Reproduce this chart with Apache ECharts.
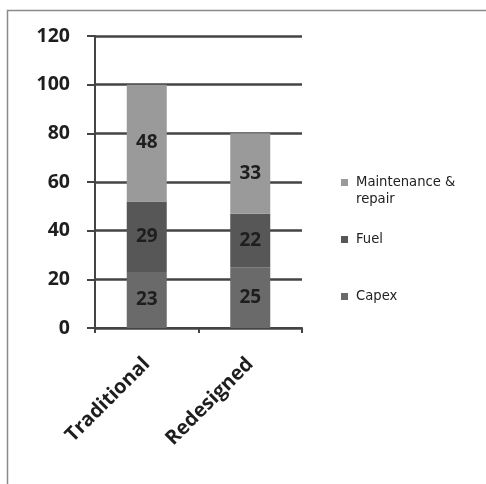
<!DOCTYPE html>
<html><head><meta charset="utf-8">
<script src="https://cdn.jsdelivr.net/npm/echarts@6/dist/echarts.min.js"></script>
<style>html,body{margin:0;padding:0;background:#fff}#c{width:486px;height:484px}</style>
</head><body><div id="c"></div>
<script>
const categories = ['Traditional', 'Redesigned'];
const capex = [23, 25];
const fuel = [29, 22];
const maintenance = [48, 33];
const yTicks = {min: 0, max: 120, interval: 20};

const chart = echarts.init(document.getElementById('c'));
const labelStyle = {show: true, position: 'inside', color: '#1e1e1e', fontSize: 19, fontWeight: 'bold', fontFamily: 'Open Sans'};
function lg(name, top, lead) {
  return {data: [name], left: 336, top: top, orient: 'vertical', icon: 'rect', itemWidth: 7, itemHeight: 7,
    formatter: n => (lead ? '\n' : '') + n,
    textStyle: {fontSize: 13.2, color: '#222', fontFamily: 'DejaVu Sans', lineHeight: 17, padding: [0, 0, 0, 3]},
    itemGap: 0, selectedMode: false};
}
chart.setOption({
  animation: false,
  graphic: [{type: 'rect', shape: {x: 7.5, y: 10.5, width: 490, height: 480}, style: {fill: 'none', stroke: '#8a8a8a', lineWidth: 1.5}}],
  grid: {left: 95, right: 184, top: 36, bottom: 156},
  legend: [lg('Maintenance &\nrepair', 152, true), lg('Fuel', 226, false), lg('Capex', 283, false)],
  xAxis: {
    type: 'category', data: categories,
    axisLine: {lineStyle: {color: '#444', width: 2}},
    axisTick: {show: true, length: 5, lineStyle: {color: '#444', width: 2}},
    axisLabel: {rotate: 45, interval: 0, fontSize: 20, fontWeight: 'bold', color: '#1e1e1e', fontFamily: 'Open Sans', margin: 33}
  },
  yAxis: {
    type: 'value', min: yTicks.min, max: yTicks.max, interval: yTicks.interval,
    axisLine: {show: true, lineStyle: {color: '#444', width: 2}},
    axisTick: {show: true, length: 8, lineStyle: {color: '#444', width: 2}},
    splitLine: {lineStyle: {color: '#444', width: 2.5}},
    axisLabel: {fontSize: 19.5, fontWeight: 'bold', color: '#1e1e1e', fontFamily: 'Open Sans', margin: 25}
  },
  series: [
    {name: 'Capex', type: 'bar', stack: 'a', data: capex, barWidth: 40, itemStyle: {color: '#6a6a6a'}, label: labelStyle},
    {name: 'Fuel', type: 'bar', stack: 'a', data: fuel, itemStyle: {color: '#575757'}, label: labelStyle},
    {name: 'Maintenance &\nrepair', type: 'bar', stack: 'a', data: maintenance, itemStyle: {color: '#9a9a9a'}, label: labelStyle}
  ]
});
</script></body></html>
